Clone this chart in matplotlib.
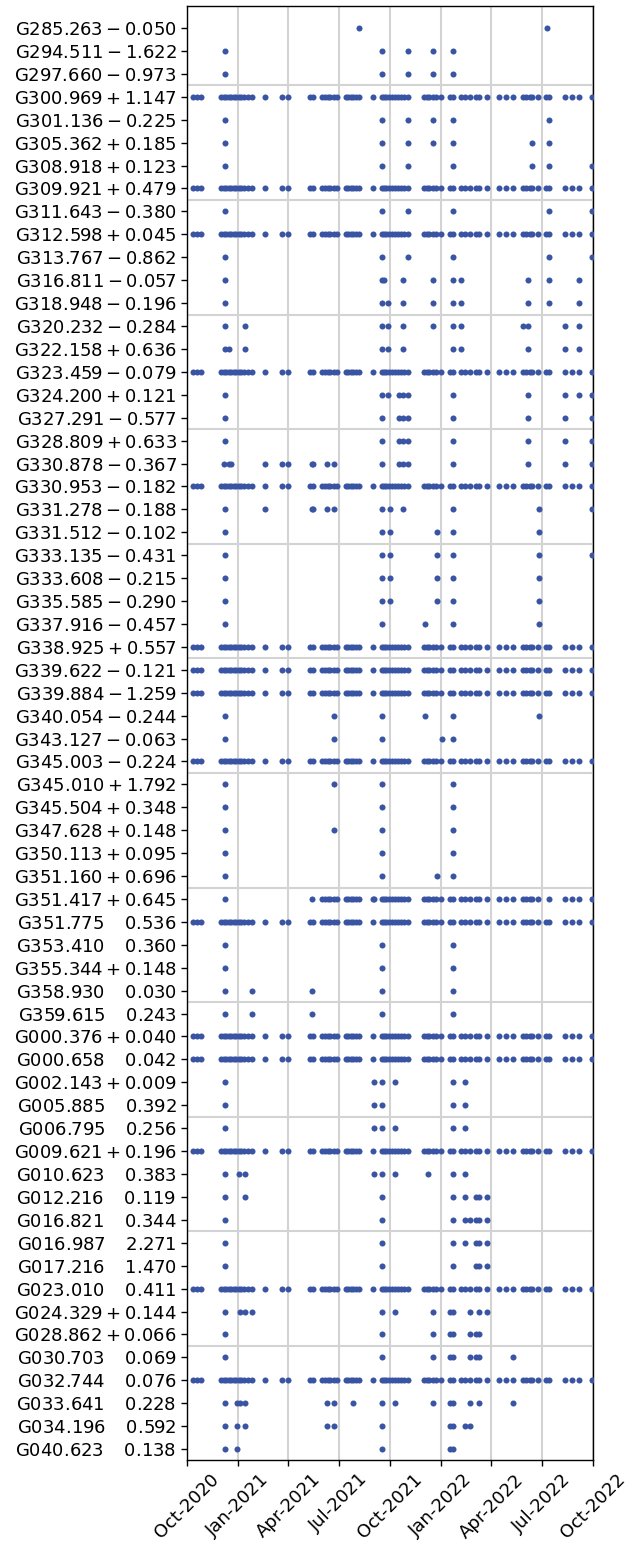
import matplotlib
matplotlib.use("Agg")
import matplotlib.pyplot as plt
import matplotlib.dates as mdates
import pandas as pd

# ---------------- data ----------------
START = "2020-10-01"
END = "2022-10-01"

sources = [
    ("G285.263", "-", "0.050"), ("G294.511", "-", "1.622"), ("G297.660", "-", "0.973"),
    ("G300.969", "+", "1.147"), ("G301.136", "-", "0.225"), ("G305.362", "+", "0.185"),
    ("G308.918", "+", "0.123"), ("G309.921", "+", "0.479"), ("G311.643", "-", "0.380"),
    ("G312.598", "+", "0.045"), ("G313.767", "-", "0.862"), ("G316.811", "-", "0.057"),
    ("G318.948", "-", "0.196"), ("G320.232", "-", "0.284"), ("G322.158", "+", "0.636"),
    ("G323.459", "-", "0.079"), ("G324.200", "+", "0.121"), ("G327.291", "-", "0.577"),
    ("G328.809", "+", "0.633"), ("G330.878", "-", "0.367"), ("G330.953", "-", "0.182"),
    ("G331.278", "-", "0.188"), ("G331.512", "-", "0.102"), ("G333.135", "-", "0.431"),
    ("G333.608", "-", "0.215"), ("G335.585", "-", "0.290"), ("G337.916", "-", "0.457"),
    ("G338.925", "+", "0.557"), ("G339.622", "-", "0.121"), ("G339.884", "-", "1.259"),
    ("G340.054", "-", "0.244"), ("G343.127", "-", "0.063"), ("G345.003", "-", "0.224"),
    ("G345.010", "+", "1.792"), ("G345.504", "+", "0.348"), ("G347.628", "+", "0.148"),
    ("G350.113", "+", "0.095"), ("G351.160", "+", "0.696"), ("G351.417", "+", "0.645"),
    ("G351.775", "", "0.536"), ("G353.410", "", "0.360"), ("G355.344", "+", "0.148"),
    ("G358.930", "", "0.030"), ("G359.615", "", "0.243"), ("G000.376", "+", "0.040"),
    ("G000.658", "", "0.042"), ("G002.143", "+", "0.009"), ("G005.885", "", "0.392"),
    ("G006.795", "", "0.256"), ("G009.621", "+", "0.196"), ("G010.623", "", "0.383"),
    ("G012.216", "", "0.119"), ("G016.821", "", "0.344"), ("G016.987", "", "2.271"),
    ("G017.216", "", "1.470"), ("G023.010", "", "0.411"), ("G024.329", "+", "0.144"),
    ("G028.862", "+", "0.066"), ("G030.703", "", "0.069"), ("G032.744", "", "0.076"),
    ("G033.641", "", "0.228"), ("G034.196", "", "0.592"), ("G040.623", "", "0.138"),
]

# observation epochs, in days after START
MONITOR = [11, 18, 26,
           62, 66, 70, 75, 79, 84, 88, 93, 98, 103, 109, 116,
           141, 170, 182,
           222, 227, 243, 248, 253, 258, 264, 270,
           285, 290, 294, 299, 303, 309,
           334,
           350, 354, 358, 363, 368, 374, 379, 385, 391, 398,
           427, 431, 436, 442, 448, 457,
           472, 479,
           493, 499, 509, 519, 525, 539,
           561, 574, 587,
           604, 610, 616, 621, 631,
           646, 650,
           679, 693, 704,
           729]
MONITOR_LATE = [68, 224, 243, 248, 253, 258, 264, 270,
                285, 290, 294, 299, 303, 309, 334, 337,
                350, 354, 358, 363, 368, 374, 379, 385, 391, 398,
                427, 431, 436, 442, 448, 457, 472, 479,
                493, 499, 509, 519, 525, 539, 561, 574, 587,
                604, 610, 616, 621, 631, 650, 679, 693, 704, 729]

obs_days = [
    [309, 647],
    [68, 350, 397, 442, 479],
    [68, 350, 397, 442, 479],
    MONITOR,
    [68, 350, 397, 442, 479, 650],
    [68, 350, 397, 442, 479, 621, 650],
    [68, 350, 397, 479, 621, 650, 729],
    MONITOR,
    [68, 350, 397, 479, 650, 729],
    MONITOR,
    [68, 350, 397, 479, 650, 729],
    [68, 350, 355, 388, 442, 479, 493, 614, 650, 704],
    [68, 350, 361, 388, 442, 479, 493, 614, 650, 704],
    [68, 105, 350, 361, 388, 442, 479, 493, 604, 614, 679, 704],
    [68, 75, 105, 350, 361, 388, 479, 493, 614, 679, 704],
    MONITOR,
    [68, 350, 361, 382, 388, 397, 479, 614, 679, 704, 729],
    [68, 350, 382, 388, 397, 479, 614, 679, 729],
    [68, 350, 382, 388, 397, 479, 614, 679, 729],
    [66, 75, 80, 141, 170, 182, 224, 227, 251, 264, 350, 382, 388, 397, 479, 614, 679, 729],
    MONITOR,
    [68, 141, 224, 227, 251, 264, 350, 365, 388, 479, 632, 729],
    [68, 350, 365, 449, 479, 632],
    [68, 350, 365, 449, 479, 632, 729],
    [68, 350, 365, 449, 479, 632],
    [68, 350, 365, 449, 479, 632],
    [68, 350, 428, 479, 632],
    MONITOR,
    MONITOR,
    MONITOR,
    [68, 264, 350, 428, 479, 632],
    [68, 264, 350, 459, 479],
    MONITOR,
    [68, 264, 350, 479],
    [68, 350, 479],
    [68, 264, 350, 479],
    [68, 350, 479],
    [68, 350, 449, 479],
    MONITOR_LATE,
    MONITOR,
    [68, 350, 479],
    [68, 350, 479],
    [68, 116, 224, 350, 479],
    [68, 116, 224, 350, 479],
    MONITOR,
    MONITOR,
    [68, 337, 350, 374, 479, 499],
    [68, 337, 350, 479, 499],
    [68, 337, 350, 374, 479, 499],
    MONITOR,
    [68, 94, 104, 337, 350, 374, 433, 479, 499],
    [68, 104, 350, 479, 499, 519, 525, 539],
    [68, 350, 479, 499, 509, 519, 525, 539],
    [68, 350, 479, 499, 519, 525, 539],
    [68, 350, 479, 519, 525, 539],
    MONITOR,
    [68, 96, 104, 116, 350, 374, 442, 472, 479, 509, 525, 539],
    [68, 350, 442, 472, 479, 509, 519, 525],
    [68, 350, 442, 472, 479, 509, 519, 525, 587],
    MONITOR,
    [68, 90, 96, 104, 251, 264, 299, 350, 374, 442, 472, 479, 509, 525, 587],
    [68, 90, 104, 251, 264, 350, 472, 479, 499, 509],
    [68, 90, 350, 472, 479],
]

# ---------------- plot ----------------
plt.rcParams["font.family"] = ["DejaVu Sans"]
plt.rcParams["mathtext.fontset"] = "dejavusans"

fig = plt.figure(figsize=(6.26, 15.46), dpi=100)
ax = fig.add_axes([0.2987, 0.0556, 0.6486, 0.9405])

start = pd.Timestamp(START)
color = "#3a54a4"
for i, days in enumerate(obs_days):
    dates = start + pd.to_timedelta(days, unit="D")
    ax.scatter(dates, [i] * len(days), s=19, color=color, linewidths=0, zorder=3)

labels = []
for name, sign, val in sources:
    if sign == "-":
        labels.append(r"$\mathregular{%s-%s}$" % (name, val))
    elif sign == "+":
        labels.append(r"$\mathregular{%s+%s}$" % (name, val))
    else:
        labels.append(r"$\mathregular{%s\quad\,%s}$" % (name, val))

n = len(sources)
ax.set_yticks(range(n))
ax.set_yticklabels(labels, fontsize=13)
ax.set_ylim(n - 0.52, -0.96)
for k in range(2, n - 3, 5):
    ax.axhline(k + 0.5, color="#d3d3d3", lw=1.5, zorder=1)

ax.set_xlim(pd.Timestamp(START), pd.Timestamp(END))
ax.xaxis.set_major_locator(mdates.MonthLocator(bymonth=[1, 4, 7, 10]))
ax.xaxis.set_major_formatter(mdates.DateFormatter("%b-%Y"))
plt.setp(ax.get_xticklabels(), rotation=45, ha="center", fontsize=13)
ax.grid(axis="x", color="#d3d3d3", lw=1.5, zorder=1)
ax.set_axisbelow(True)
ax.tick_params(direction="out", length=4, width=1, color="black")
for sp in ax.spines.values():
    sp.set_color("black")
    sp.set_linewidth(1.0)

fig.savefig("out.png", dpi=100)
